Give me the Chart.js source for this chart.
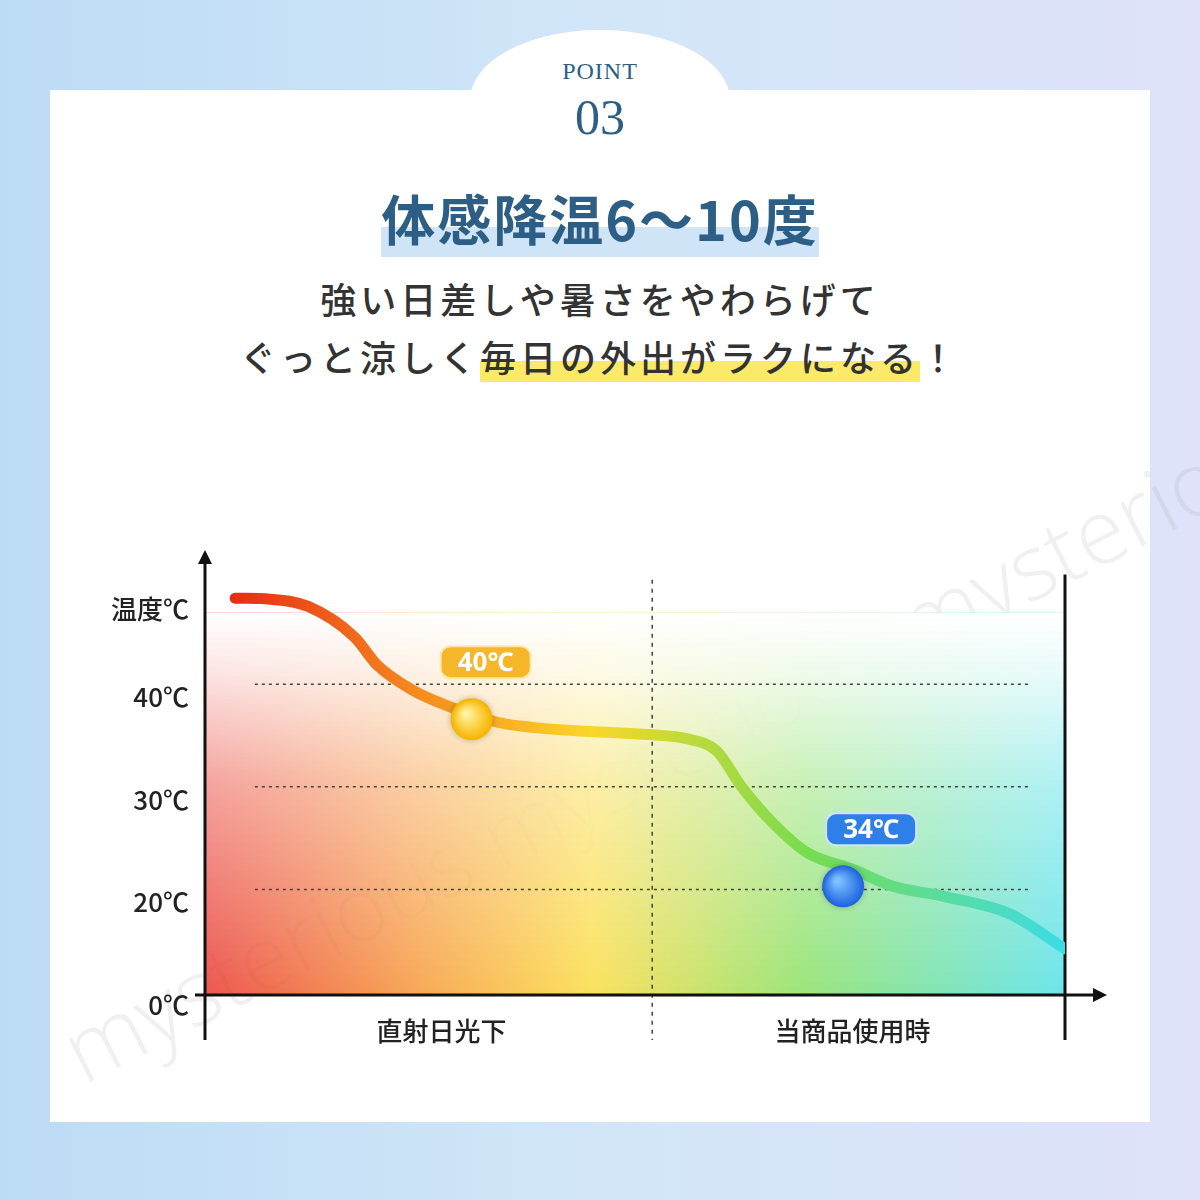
<!DOCTYPE html>
<html><head><meta charset="utf-8">
<script src="https://cdn.jsdelivr.net/npm/chart.js@4"></script>
<style>
html,body{margin:0;padding:0;width:1200px;height:1200px;overflow:hidden;font-family:"Noto Sans CJK JP",sans-serif}
#bg{position:absolute;left:0;top:0;width:1200px;height:1200px;background:linear-gradient(90deg,#bcdcf5 0%,#d2e6f8 50%,#dfe2fa 100%)}
#card{position:absolute;left:50px;top:90px;width:1100px;height:1032px;background:#fff}
#bump{position:absolute;left:470px;top:30px;width:260px;height:140px;border-radius:50%;background:#fff}
.t{position:absolute;left:0;width:1200px;text-align:center}
#wm{position:absolute;left:40px;top:1000px;font:200 90px "Open Sans",sans-serif;color:rgba(160,160,160,0.16);transform:rotate(-27deg);transform-origin:left top;white-space:nowrap}
canvas{position:absolute;left:0;top:0}
</style></head><body>
<div id="bg"></div><div id="bump"></div><div id="card"></div>
<div class="t" style="top:58px;font:24px 'Liberation Serif',serif;color:#2d5f86;letter-spacing:1px">POINT</div>
<div class="t" style="top:88px;font:50px 'Liberation Serif',serif;color:#2d5f86">03</div>
<div class="t" style="top:178px"><span style="font:bold 54px 'Noto Sans CJK JP';color:#2d5f86;letter-spacing:2px;background:linear-gradient(transparent 62%,#cfe5f7 62%)">体感降温6〜10度</span></div>
<div class="t" style="top:272px;font:500 36px 'Noto Sans CJK JP';color:#333;letter-spacing:4px">強い日差しや暑さをやわらげて</div>
<div class="t" style="top:330px;font:500 36px 'Noto Sans CJK JP';color:#333;letter-spacing:4px">ぐっと涼しく<span style="background:linear-gradient(transparent 60%,#fbe96a 60%)">毎日の外出がラクになる</span>！</div>
<div id="wm">mysterious mysterious mysterious</div>
<canvas id="c" width="1200" height="1200"></canvas>
<script>
const xVals=[3.5,7.6,12,17.4,20,24,27.9,34,38,44.8,51.6,56,59.5,62.4,66,70,75.5,80,86,93.6,100];
const yVals=[48.4,48.3,47.6,44.6,41.9,39.5,38.0,36.3,35.8,35.4,35.1,34.7,33.5,30,26.5,23.6,21.9,20.3,19.3,17.6,14.2];
const tickValues=[10,20,30,40,47.3];
const tickLabels=["0℃","20℃","30℃","40℃","温度℃"];
const gridValues=[20,30,40];
const markerX=[31,74.2];
const markerY=[36.6,20.3];
const markerLabels=["40℃","34℃"];
const categoryLabels=["直射日光下","当商品使用時"];
const categoryX=[27.5,75.3];
const dividerX=52;

function hGrad(ctx,a,alpha){
  const g=ctx.createLinearGradient(a.left,0,a.right,0);
  g.addColorStop(0,`rgba(230,30,20,${alpha})`);
  g.addColorStop(0.25,`rgba(245,140,30,${alpha})`);
  g.addColorStop(0.45,`rgba(250,215,40,${alpha})`);
  g.addColorStop(0.7,`rgba(120,220,80,${alpha})`);
  g.addColorStop(1,`rgba(60,220,230,${alpha})`);
  return g;
}
const deco={id:'deco',
 beforeDatasetsDraw(ch){
  const {ctx,chartArea:a,scales:{x,y}}=ch;
  ctx.save();
  const top=y.getPixelForValue(47);
  ctx.fillStyle=hGrad(ctx,a,0.75);
  ctx.fillRect(a.left,top,a.right-a.left,a.bottom-top);
  const w=ctx.createLinearGradient(0,top,0,a.bottom);
  w.addColorStop(0,'rgba(255,255,255,1)');w.addColorStop(0.15,'rgba(255,255,255,0.85)');w.addColorStop(0.45,'rgba(255,255,255,0.45)');w.addColorStop(1,'rgba(255,255,255,0)');
  ctx.fillStyle=w;ctx.fillRect(a.left,top,a.right-a.left,a.bottom-top);
  ctx.strokeStyle='#444';ctx.lineWidth=1.5;ctx.setLineDash([3,4]);
  gridValues.forEach(v=>{const py=y.getPixelForValue(v);ctx.beginPath();ctx.moveTo(x.getPixelForValue(5.8),py);ctx.lineTo(x.getPixelForValue(95.8),py);ctx.stroke();});
  ctx.setLineDash([4,5]);
  const dx=x.getPixelForValue(dividerX);
  ctx.beginPath();ctx.moveTo(dx,y.getPixelForValue(50.2));ctx.lineTo(dx,a.bottom+45);ctx.stroke();
  ctx.setLineDash([]);
  ctx.strokeStyle='#111';ctx.lineWidth=3;
  ctx.beginPath();ctx.moveTo(a.left,a.bottom+45);ctx.lineTo(a.left,a.top+8);ctx.stroke();
  ctx.beginPath();ctx.moveTo(a.left-10,a.bottom);ctx.lineTo(a.right+32,a.bottom);ctx.stroke();
  ctx.beginPath();ctx.moveTo(a.right,y.getPixelForValue(50.7));ctx.lineTo(a.right,a.bottom+45);ctx.stroke();
  ctx.fillStyle='#111';
  ctx.beginPath();ctx.moveTo(a.left,a.top);ctx.lineTo(a.left-7,a.top+14);ctx.lineTo(a.left+7,a.top+14);ctx.fill();
  ctx.beginPath();ctx.moveTo(a.right+42,a.bottom);ctx.lineTo(a.right+28,a.bottom-7);ctx.lineTo(a.right+28,a.bottom+7);ctx.fill();
  ctx.font='500 26px "Noto Sans CJK JP"';ctx.textAlign='right';ctx.textBaseline='middle';ctx.fillStyle='#222';
  tickValues.forEach((v,i)=>{ctx.fillText(tickLabels[i],a.left-16,y.getPixelForValue(v)+(i===4?0:13));});
  ctx.textAlign='center';
  categoryLabels.forEach((l,i)=>ctx.fillText(l,x.getPixelForValue(categoryX[i]),a.bottom+36));
  ctx.restore();
 },
 afterDatasetsDraw(ch){
  const {ctx,scales:{x,y}}=ch;
  ctx.save();
  const cols=[['#fff3a0','#f7b500'],['#7fc3ff','#1f66e0']];
  markerX.forEach((mx,i)=>{
    const px=x.getPixelForValue(mx),py=y.getPixelForValue(markerY[i]);
    const g=ctx.createRadialGradient(px-6,py-6,2,px,py,20);
    g.addColorStop(0,cols[i][0]);g.addColorStop(1,cols[i][1]);
    ctx.shadowColor='rgba(0,0,0,0.25)';ctx.shadowBlur=6;
    ctx.fillStyle=g;ctx.beginPath();ctx.arc(px,py,21,0,Math.PI*2);ctx.fill();
    ctx.shadowBlur=0;
    const lx=px+(i?28:14),ly=py-57,w=90,h=32;
    ctx.fillStyle=i?'#2f7fe8':'#f6b62a';
    ctx.beginPath();ctx.roundRect(lx-w/2,ly-h/2,w,h,10);ctx.fill();
    ctx.strokeStyle=i?'#cfe3ff':'#ffe9a8';ctx.lineWidth=2;ctx.stroke();
    ctx.fillStyle='#fff';ctx.font='bold 26px "Noto Sans"';ctx.textAlign='center';ctx.textBaseline='middle';
    ctx.fillText(markerLabels[i],lx,ly+1);
  });
  ctx.restore();
 }};
new Chart(document.getElementById('c'),{
 type:'line',
 data:{datasets:[{data:xVals.map((v,i)=>({x:v,y:yVals[i]})),borderWidth:11,pointRadius:0,cubicInterpolationMode:'monotone',
   borderColor:(c)=>{const a=c.chart.chartArea;return a?hGrad(c.chart.ctx,a,1):'#f80';},borderCapStyle:'round'}]},
 options:{responsive:false,animation:false,devicePixelRatio:1,
  layout:{padding:{left:205,right:135,top:550,bottom:205}},
  plugins:{legend:{display:false},tooltip:{enabled:false}},
  scales:{x:{type:'linear',min:0,max:100,display:false},y:{min:9.7,max:53.1,display:false}}},
 plugins:[deco]});
</script></body></html>
